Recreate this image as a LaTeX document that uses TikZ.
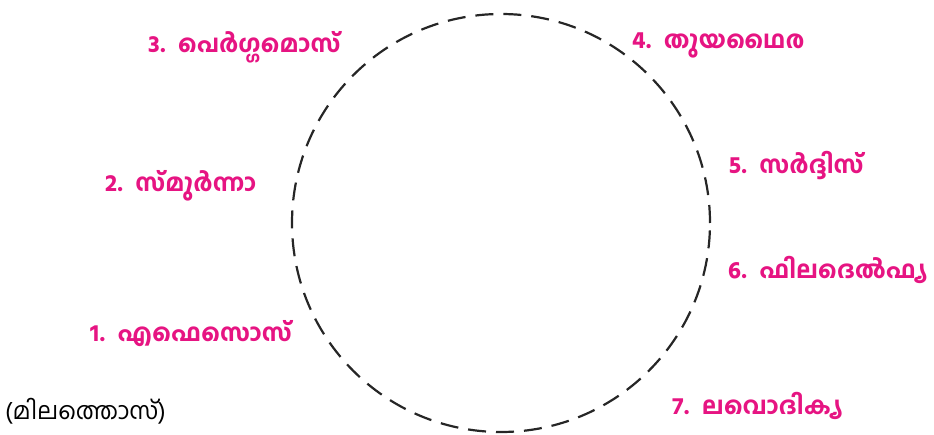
\documentclass[tikz,border=0pt]{standalone}
\usepackage{fontspec}
\newfontfamily\mlfont[Script=Malayalam]{Hind Kochi}
\newfontfamily\mlbold[Script=Malayalam]{Hind Kochi Bold}
\definecolor{lblpink}{RGB}{230,20,130}
\begin{document}
\begin{tikzpicture}[x=1pt,y=1pt,
  city/.style={anchor=west,inner sep=0pt,text=lblpink,font=\mlbold\fontsize{24}{28}\selectfont},
  ring/.style={draw=black!85,line width=2.2pt,dash pattern=on 18pt off 10pt}]
\useasboundingbox (0,0) rectangle (934,434);
\node[circle,ring,minimum size=418pt,inner sep=0pt] (c) at (501,211) {};
\node[city] (n3) at (148,387) {3.\hspace{0.5em}പെർഗ്ഗമൊസ്};
\node[city] (n4) at (632,389) {4.\hspace{0.5em}തുയഥൈര};
\node[city] (n2) at (105,248) {2.\hspace{0.5em}സ്മുർന്നാ};
\node[city] (n5) at (729,268) {5.\hspace{0.5em}സർദ്ദിസ്};
\node[city] (n6) at (728,164) {6.\hspace{0.5em}ഫിലദെൽഫ്യ};
\node[city] (n1) at (90,100) {1.\hspace{0.5em}എഫെസൊസ്};
\node[city] (n7) at (672,28) {7.\hspace{0.5em}ലവൊദിക്യ};
\node[anchor=base west,inner sep=0pt,font=\mlfont\fontsize{24}{28}\selectfont] (m) at (5,15) {(മിലത്തൊസ്)};
\end{tikzpicture}
\end{document}
